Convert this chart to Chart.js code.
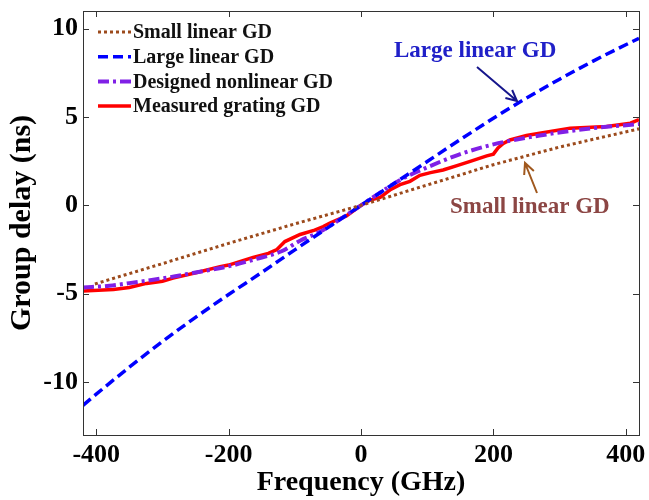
<!DOCTYPE html>
<html>
<head>
<meta charset="utf-8">
<script src="https://cdn.jsdelivr.net/npm/chart.js@4.4.1/dist/chart.umd.min.js"></script>
<style>
  body { margin: 0; background: #fff; }
  canvas { display: block; }
</style>
</head>
<body>
<canvas id="myChart" width="649" height="500"></canvas>
<script>
// values (GHz, ns)
let freqSmall = [-402, -300, -200, -100, 0, 100, 200, 300, 420];
let gdSmall = [-4.45, -3.3, -2.15, -1.05, 0, 1.15, 2.3, 3.3, 4.33];

let freqLarge = [-420, -400, -350, -300, -250, -200, -150, -100, -50, 0, 50, 100, 150, 200, 250, 300, 350, 400, 420];
let gdLarge = [-11.32, -10.69, -9.16, -7.71, -6.34, -5.05, -3.8, -2.52, -1.26, 0, 1.24, 2.48, 3.72, 4.93, 6.07, 7.14, 8.15, 9.09, 9.45];

let freqDesigned = [-420, -380, -340, -289, -250, -200, -160, -120, -92, -62, -30, 0, 30, 60, 100, 150, 200, 270, 346, 420];
let gdDesigned = [-4.65, -4.55, -4.35, -4.07, -3.8, -3.45, -3.05, -2.6, -2.0, -1.5, -0.75, 0, 0.75, 1.45, 2.15, 2.9, 3.45, 3.95, 4.35, 4.6];

let freqMeasured = [-420, -374, -350, -324, -300, -284, -248, -213, -200, -163, -140, -127, -115, -92, -70, -57, -47, -22, 0, 14, 29, 45, 59, 74, 89, 105, 124, 145, 165, 190, 200, 207, 215, 225, 250, 270, 316, 371, 407, 420];
let gdMeasured = [-4.85, -4.76, -4.65, -4.42, -4.3, -4.12, -3.8, -3.47, -3.38, -2.95, -2.72, -2.5, -2.05, -1.65, -1.4, -1.2, -1.0, -0.6, 0, 0.3, 0.45, 0.9, 1.17, 1.36, 1.7, 1.85, 2.0, 2.25, 2.49, 2.8, 2.9, 3.25, 3.5, 3.7, 3.95, 4.08, 4.37, 4.46, 4.65, 4.85];

let xTicks = [-400, -200, 0, 200, 400];
let yTicks = [-10, -5, 0, 5, 10];

let seriesNames = ["Small linear GD", "Large linear GD", "Designed nonlinear GD", "Measured grating GD"];
let seriesColors = ["#9c4a1c", "#0000ff", "#8020e6", "#ff0000"];

function toPoints(xs, ys) {
  return xs.map(function (x, i) { return { x: x, y: ys[i] }; });
}

const serif = "'Liberation Serif', 'Times New Roman', serif";

// MATLAB style box with inward ticks, legend and the two arrow notes
const boxPlugin = {
  id: "boxPlugin",
  afterDatasetsDraw(chart) {
    const ctx = chart.ctx;
    const a = chart.chartArea;
    const sx = chart.scales.x, sy = chart.scales.y;
    ctx.save();
    ctx.strokeStyle = "#333";
    ctx.lineWidth = 1;
    ctx.strokeRect(a.left + 0.5, a.top + 0.5, a.right - a.left, a.bottom - a.top);
    ctx.beginPath();
    xTicks.forEach(function (v) {
      const px = Math.round(sx.getPixelForValue(v)) + 0.5;
      ctx.moveTo(px, a.bottom); ctx.lineTo(px, a.bottom - 6);
      ctx.moveTo(px, a.top); ctx.lineTo(px, a.top + 6);
    });
    yTicks.forEach(function (v) {
      const py = Math.round(sy.getPixelForValue(v)) + 0.5;
      ctx.moveTo(a.left, py); ctx.lineTo(a.left + 6, py);
      ctx.moveTo(a.right, py); ctx.lineTo(a.right - 6, py);
    });
    ctx.stroke();

    // legend
    const dashes = [[3, 3], [10, 5], [11, 4, 3, 4], []];
    const widths = [3, 3.5, 4, 3.5];
    ctx.font = "bold 20px " + serif;
    ctx.textBaseline = "middle";
    ctx.textAlign = "left";
    seriesNames.forEach(function (name, i) {
      const y = 32 + i * 24.7;
      ctx.beginPath();
      ctx.setLineDash(dashes[i]);
      ctx.strokeStyle = seriesColors[i];
      ctx.lineWidth = widths[i];
      ctx.moveTo(98, y); ctx.lineTo(131, y);
      ctx.stroke();
      ctx.setLineDash([]);
      ctx.fillStyle = "#111";
      ctx.fillText(name, 133, y + 1);
    });

    // notes
    ctx.font = "bold 23px " + serif;
    ctx.fillStyle = "#2020c8";
    ctx.fillText("Large linear GD", 394, 51);
    ctx.fillStyle = "#8c4644";
    ctx.fillText("Small linear GD", 450, 207);
    arrow(ctx, 477, 67, 517, 101, "#16168c");
    arrow(ctx, 537, 193, 525, 163, "#a0581e");
    ctx.restore();
  }
};

function arrow(ctx, x1, y1, x2, y2, color) {
  const ang = Math.atan2(y2 - y1, x2 - x1);
  ctx.beginPath();
  ctx.strokeStyle = color;
  ctx.lineWidth = 2;
  ctx.moveTo(x1, y1); ctx.lineTo(x2, y2);
  ctx.moveTo(x2 - 12 * Math.cos(ang - 0.45), y2 - 12 * Math.sin(ang - 0.45));
  ctx.lineTo(x2, y2);
  ctx.lineTo(x2 - 12 * Math.cos(ang + 0.45), y2 - 12 * Math.sin(ang + 0.45));
  ctx.stroke();
}

new Chart("myChart", {
  type: "scatter",
  data: {
    datasets: [
      { label: seriesNames[0], data: toPoints(freqSmall, gdSmall), showLine: true, borderColor: seriesColors[0], borderWidth: 3, borderDash: [3, 3], pointRadius: 0 },
      { label: seriesNames[1], data: toPoints(freqLarge, gdLarge), showLine: true, borderColor: seriesColors[1], borderWidth: 3.5, borderDash: [10, 5], pointRadius: 0, cubicInterpolationMode: "monotone" },
      { label: seriesNames[2], data: toPoints(freqDesigned, gdDesigned), showLine: true, borderColor: seriesColors[2], borderWidth: 4, borderDash: [11, 4, 3, 4], pointRadius: 0, cubicInterpolationMode: "monotone" },
      { label: seriesNames[3], data: toPoints(freqMeasured, gdMeasured), showLine: true, borderColor: seriesColors[3], borderWidth: 3.5, pointRadius: 0 }
    ]
  },
  options: {
    responsive: false,
    animation: false,
    devicePixelRatio: 1,
    layout: { padding: { top: 11, right: 10, left: 0, bottom: 0 } },
    plugins: { legend: { display: false }, tooltip: { enabled: false } },
    scales: {
      x: {
        type: "linear",
        min: -420, max: 420,
        afterBuildTicks: function (s) { s.ticks = xTicks.map(function (v) { return { value: v }; }); },
        afterFit: function (s) { s.height = 65; s.paddingLeft = 0; s.paddingRight = 0; },
        grid: { display: false, drawTicks: false },
        border: { display: false },
        ticks: { padding: 5, color: "#000", font: { family: serif, size: 26, weight: "bold" }, maxRotation: 0 },
        title: { display: true, text: "Frequency (GHz)", color: "#000", padding: { top: 0, bottom: 0 }, font: { family: serif, size: 28, weight: "bold" } }
      },
      y: {
        type: "linear",
        min: -13, max: 11,
        afterBuildTicks: function (s) { s.ticks = yTicks.map(function (v) { return { value: v }; }); },
        afterFit: function (s) { s.width = 83; s.paddingTop = 0; s.paddingBottom = 0; },
        grid: { display: false, drawTicks: false },
        border: { display: false },
        ticks: { padding: 5, color: "#000", font: { family: serif, size: 26, weight: "bold" } },
        title: { display: true, text: "Group delay (ns)", color: "#000", padding: { top: 4, bottom: 0 }, font: { family: serif, size: 30, weight: "bold" } }
      }
    }
  },
  plugins: [boxPlugin]
});
</script>
</body>
</html>
